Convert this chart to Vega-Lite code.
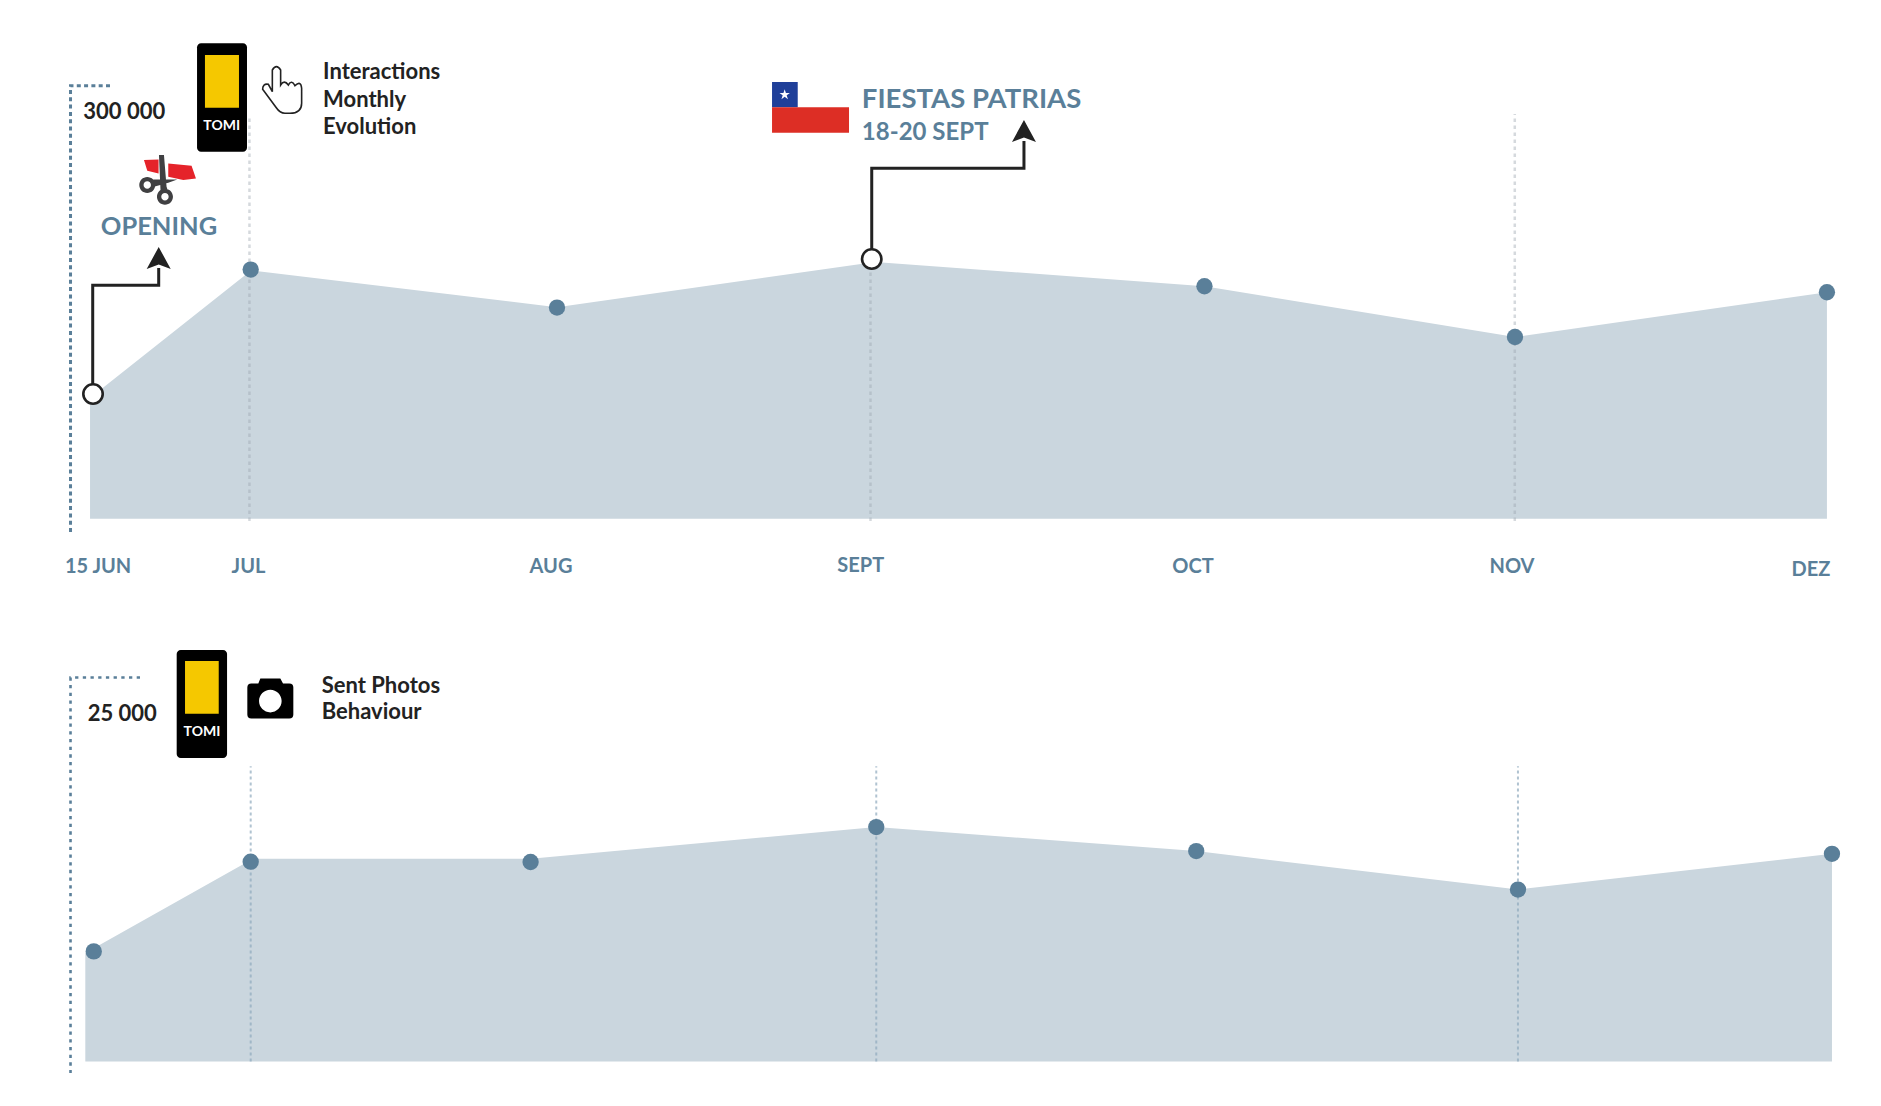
{
"$schema":"https://vega.github.io/schema/vega-lite/v6.json",
"padding":0,"spacing":0,"background":"white",
"config":{"view":{"stroke":null},"concat":{"spacing":0},"text":{"font":"Lato"}},
"vconcat":[
{"width":1881,"height":600,
"encoding":{"x":{"field":"day","type":"quantitative","scale":{"domain":[-9,174]},"axis":null},
"y":{"field":"value","type":"quantitative","scale":{"domain":[-56000,358000]},"axis":null}},
"layer":[
{"data":{"values":[{"day":-0.24,"value":83380},{"day":15.42,"value":171350},{"day":45.19,"value":146000},{"day":76.13,"value":177220},{"day":108.18,"value":160500},{"day":138.39,"value":125470},{"day":168.74,"value":156350}]},
"mark":{"type":"area","color":"#cad6de"},"encoding":{"y2":{"datum":0}}},
{"data":{"values":[{"day":15.27,"value":-1490,"top":277960},{"day":75.69,"value":-1490,"top":175000},{"day":138.37,"value":-1490,"top":279340}]},
"mark":{"type":"rule","color":"#9aa5ae","opacity":0.42,"strokeWidth":2.5,"strokeDash":[3.5,3.5]},"encoding":{"y2":{"field":"top"}}},
{"data":{"values":[{"step":1,"day":1.70,"value":298900},{"step":2,"day":-2.14,"value":298900},{"step":3,"day":-2.14,"value":-9080}]},
"mark":{"type":"line","color":"#5a7f99","strokeWidth":3,"strokeDash":[4,3.3]},"encoding":{"order":{"field":"step"}}},
{"data":{"values":[{"month":"JUL","day":15.39,"value":172000},{"month":"AUG","day":45.19,"value":145800},{"month":"OCT","day":108.18,"value":160500},{"month":"NOV","day":138.39,"value":125470},{"month":"DEZ","day":168.74,"value":156350}]},
"mark":{"type":"point","filled":true,"shape":"circle","size":266,"color":"#5a7f99","opacity":1}},
{"data":{"values":[{"series":"opening","step":1,"day":0.02,"value":86140},{"series":"opening","step":2,"day":0.02,"value":161140},{"series":"opening","step":3,"day":6.44,"value":161140},{"series":"opening","step":4,"day":6.44,"value":173090},{"series":"fiestas","step":1,"day":75.81,"value":179290},{"series":"fiestas","step":2,"day":75.81,"value":241870},{"series":"fiestas","step":3,"day":90.62,"value":241870},{"series":"fiestas","step":4,"day":90.62,"value":260720}]},
"mark":{"type":"line","color":"#222222","strokeWidth":3},"encoding":{"detail":{"field":"series"},"order":{"field":"step"}}},
{"data":{"values":[{"day":6.44,"value":179980},{"day":90.62,"value":267610}]},
"mark":{"type":"point","filled":true,"shape":"M0,-0.92 L1,0.92 L0,0.55 L-1,0.92 Z","size":576,"fill":"#222222","strokeWidth":0,"opacity":1}},
{"data":{"values":[{"day":0.05,"value":86140},{"day":75.81,"value":179290}]},
"mark":{"type":"point","filled":true,"shape":"circle","size":376,"fill":"#ffffff","stroke":"#222222","strokeWidth":2.6,"opacity":1}},
{"data":{"values":[{"label":"15 JUN","day":0.54,"value":-33090},{"label":"JUL","day":15.18,"value":-33090},{"label":"AUG","day":44.61,"value":-33090},{"label":"SEPT","day":74.74,"value":-32400},{"label":"OCT","day":107.07,"value":-33090},{"label":"NOV","day":138.10,"value":-33090},{"label":"DEZ","day":167.19,"value":-35160}]},
"mark":{"type":"text","align":"center","baseline":"middle","fontSize":20,"fontWeight":"bold","color":"#5a7f99"},"encoding":{"text":{"field":"label"}}},
{"data":{"values":[{"label":"Interactions","day":22.43,"value":308530},{"label":"Monthly","day":22.43,"value":288660},{"label":"Evolution","day":22.43,"value":270580},{"label":"300 000","day":-0.90,"value":280570}]},
"mark":{"type":"text","align":"left","baseline":"middle","fontSize":22,"fontWeight":"bold","color":"#222222"},"encoding":{"text":{"field":"label"}}},
{"data":{"values":[{"label":"OPENING","day":6.47,"value":201310}]},
"mark":{"type":"text","align":"center","baseline":"middle","fontSize":25.5,"fontWeight":"bold","color":"#5a7f99"},"encoding":{"text":{"field":"label"}}},
{"data":{"values":[{"label":"FIESTAS PATRIAS","day":74.85,"value":288940}]},
"mark":{"type":"text","align":"left","baseline":"middle","fontSize":27.5,"fontWeight":"bold","color":"#5a7f99"},"encoding":{"text":{"field":"label"}}},
{"data":{"values":[{"label":"18-20 SEPT","day":74.85,"value":265960}]},
"mark":{"type":"text","align":"left","baseline":"middle","fontSize":24,"fontWeight":"bold","color":"#5a7f99"},"encoding":{"text":{"field":"label"}}},
{"data":{"values":[{"day":10.17,"day2":15.03,"value":253330,"value2":328130}]},
"mark":{"type":"rect","color":"#000000","cornerRadius":4},"encoding":{"x2":{"field":"day2"},"y2":{"field":"value2"}}},
{"data":{"values":[{"day":10.94,"day2":14.25,"value":283690,"value2":320050}]},
"mark":{"type":"rect","color":"#f5c800"},"encoding":{"x2":{"field":"day2"},"y2":{"field":"value2"}}},
{"data":{"values":[{"label":"TOMI","day":12.57,"value":271270}]},
"mark":{"type":"text","align":"center","baseline":"middle","fontSize":14,"fontWeight":"bold","color":"#ffffff"},"encoding":{"text":{"field":"label"}}},
{"data":{"values":[{"day":18.40,"value":295900}]},
"mark":{"type":"point","filled":true,"shape":"M-.093,.017 L-.093,-.2 Q-.053,-.267 -.01,-.2 L-.01,-.05 Q.027,-.107 .067,-.05 Q.1,-.107 .133,-.043 Q.193,-.1 .2,-.017 L.2,.133 Q.2,.233 .083,.233 L.033,.233 Q-.017,.233 -.057,.173 L-.19,-.007 Q-.19,-.067 -.133,-.057 Z","size":40000,"fill":"#ffffff","stroke":"#222222","strokeWidth":1.6,"opacity":1}},
{"data":{"values":[{"day":7.37,"value":236080}]},
"mark":{"type":"point","filled":true,"shape":"M-.243,-.167 L-.097,-.173 L-.097,-.033 L-.21,-.06 Z M0,-.133 L.233,-.11 L.277,.017 L.15,.033 L0,0 Z","size":40000,"fill":"#e5232a","strokeWidth":0,"opacity":1}},
{"data":{"values":[{"day":7.37,"value":236080}]},
"mark":{"type":"point","filled":true,"shape":"M-.093,-.217 L-.043,-.217 L-.017,.1 L0,.15 L-.077,.15 Z M-.15,.027 L.09,.027 L0,.06 L-.143,.1 Z M-.113,.2 a.08,.08 0 1,1 .16,0 a.08,.08 0 1,1 -.16,0 Z M-.07,.2 a.037,.037 0 1,0 .074,0 a.037,.037 0 1,0 -.074,0 Z M-.29,.083 a.08,.08 0 1,1 .16,0 a.08,.08 0 1,1 -.16,0 Z M-.247,.083 a.037,.037 0 1,0 .074,0 a.037,.037 0 1,0 -.074,0 Z","size":40000,"fill":"#404042","strokeWidth":0,"opacity":1}},
{"data":{"values":[{"day":66.11,"day2":68.61,"value":283960,"value2":301420}]},
"mark":{"type":"rect","color":"#1f3f99"},"encoding":{"x2":{"field":"day2"},"y2":{"field":"value2"}}},
{"data":{"values":[{"day":66.11,"day2":73.60,"value":266440,"value2":283960}]},
"mark":{"type":"rect","color":"#dd2e25"},"encoding":{"x2":{"field":"day2"},"y2":{"field":"value2"}}},
{"data":{"values":[{"day":67.34,"value":292660}]},
"mark":{"type":"point","filled":true,"shape":"M0,-1 L.225,-.309 L.951,-.309 L.363,.118 L.588,.809 L0,.382 L-.588,.809 L-.363,.118 L-.951,-.309 L-.225,-.309 Z","size":121,"fill":"#ffffff","strokeWidth":0,"opacity":1}}
]},
{"width":1881,"height":506,
"encoding":{"x":{"field":"day","type":"quantitative","scale":{"domain":[-9,174]},"axis":null},
"y":{"field":"value","type":"quantitative","scale":{"domain":[-2890,30000]},"axis":null}},
"layer":[
{"data":{"values":[{"day":-0.70,"value":7050},{"day":15.61,"value":13180},{"day":42.62,"value":13180},{"day":76.25,"value":15240},{"day":107.38,"value":13680},{"day":138.68,"value":11180},{"day":169.23,"value":13500}]},
"mark":{"type":"area","color":"#cad6de"},"encoding":{"y2":{"datum":0}}},
{"data":{"values":[{"day":15.39,"value":0,"top":19200},{"day":76.25,"value":0,"top":19200},{"day":138.68,"value":0,"top":19200}]},
"mark":{"type":"rule","color":"#8fa9bd","opacity":0.7,"strokeWidth":2,"strokeDash":[3,3]},"encoding":{"y2":{"field":"top"}}},
{"data":{"values":[{"step":1,"day":4.62,"value":24960},{"step":2,"day":-2.14,"value":24960},{"step":3,"day":-2.14,"value":-750}]},
"mark":{"type":"line","color":"#5a7f99","strokeWidth":2.6,"strokeDash":[3.3,4.4]},"encoding":{"order":{"field":"step"}}},
{"data":{"values":[{"month":"15 JUN","day":0.12,"value":7160},{"month":"JUL","day":15.39,"value":12990},{"month":"AUG","day":42.62,"value":12970},{"month":"SEPT","day":76.25,"value":15240},{"month":"OCT","day":107.38,"value":13680},{"month":"NOV","day":138.68,"value":11180},{"month":"DEZ","day":169.23,"value":13500}]},
"mark":{"type":"point","filled":true,"shape":"circle","size":266,"color":"#5a7f99","opacity":1}},
{"data":{"values":[{"label":"25 000","day":-0.47,"value":22590},{"label":"Sent Photos","day":22.30,"value":24424},{"label":"Behaviour","day":22.30,"value":22702}]},
"mark":{"type":"text","align":"left","baseline":"middle","fontSize":22,"fontWeight":"bold","color":"#222222"},"encoding":{"text":{"field":"label"}}},
{"data":{"values":[{"day":8.19,"day2":13.09,"value":19730,"value2":26750}]},
"mark":{"type":"rect","color":"#000000","cornerRadius":4},"encoding":{"x2":{"field":"day2"},"y2":{"field":"value2"}}},
{"data":{"values":[{"day":9.0,"day2":12.28,"value":22610,"value2":26030}]},
"mark":{"type":"rect","color":"#f5c800"},"encoding":{"x2":{"field":"day2"},"y2":{"field":"value2"}}},
{"data":{"values":[{"label":"TOMI","day":10.65,"value":21440}]},
"mark":{"type":"text","align":"center","baseline":"middle","fontSize":14,"fontWeight":"bold","color":"#ffffff"},"encoding":{"text":{"field":"label"}}},
{"data":{"values":[{"day":17.30,"value":23430}]},
"mark":{"type":"point","filled":true,"shape":"M-.19,-.177 L-.12,-.177 L-.1,-.227 L.1,-.227 L.127,-.177 L.19,-.177 Q.23,-.177 .23,-.137 L.23,.133 Q.23,.173 .19,.173 L-.19,.173 Q-.23,.173 -.23,.133 L-.23,-.137 Q-.23,-.177 -.19,-.177 Z M-.113,0 a.113,.113 0 1,0 .226,0 a.113,.113 0 1,0 -.226,0 Z","size":40000,"fill":"#000000","strokeWidth":0,"opacity":1}}
]}
]}
